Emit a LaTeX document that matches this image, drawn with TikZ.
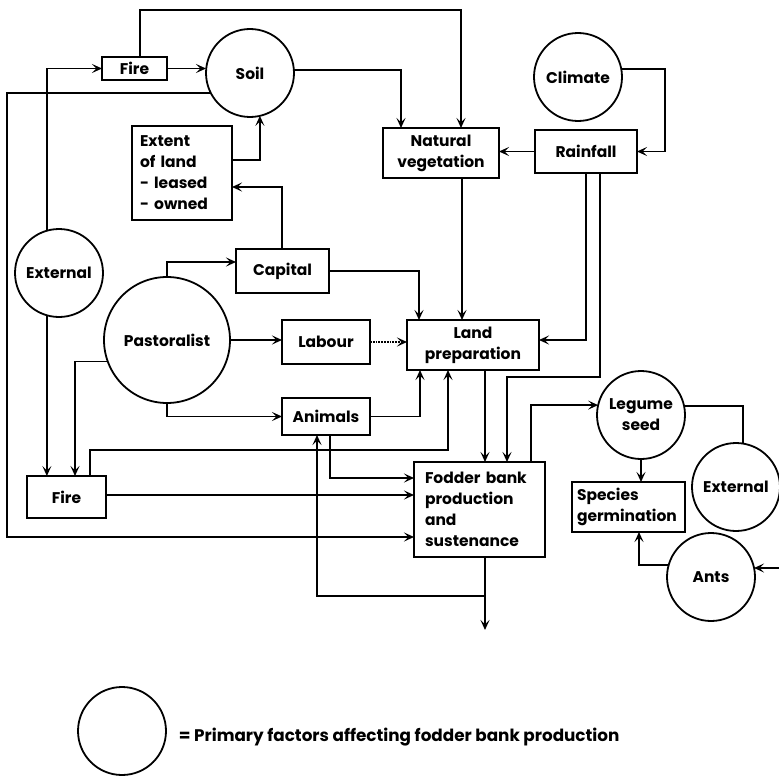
\documentclass[tikz,border=0pt]{standalone}
\usepackage{fontspec}
\setmainfont{Poppins}
\usetikzlibrary{arrows.meta}
\newcommand\labfont{\fontsize{15.5}{21}\selectfont\bfseries}
\newcommand\legfont{\fontsize{16.8}{21}\selectfont\bfseries}
\begin{document}
\begin{tikzpicture}[x=1pt,y=-1pt,
  line width=1.8pt,
  arr/.style={-{Stealth[length=10pt,width=9pt,inset=4.5pt]}},
  box/.style={draw, rectangle, inner sep=0pt, outer sep=0pt, font=\labfont, align=center},
  fac/.style={draw, circle, inner sep=0pt, outer sep=0pt, minimum size=88pt, font=\labfont, align=center},
]
\useasboundingbox (0,0) rectangle (779,776);

% nodes
\node[box, minimum width=65pt, minimum height=23pt] (fireT) at (134.5,68.5) {Fire};
\node[fac] (soil) at (250,73) {Soil};
\node[box, minimum width=100pt, minimum height=94pt, text width=84pt, align=left] (extent) at (182,173) {Extent\\of land\\- leased\\- owned};
\node[box, minimum width=116pt, minimum height=50pt] (natveg) at (441,153) {Natural\\vegetation};
\node[box, minimum width=102pt, minimum height=43pt] (rain) at (586,151.5) {Rainfall};
\node[fac] (climate) at (578,77) {Climate};
\node[fac] (extL) at (59,273) {External};
\node[fac, minimum size=126pt] (past) at (167,340) {Pastoralist};
\node[box, minimum width=93pt, minimum height=44pt] (capital) at (282.5,271) {Capital};
\node[box, minimum width=88pt, minimum height=44pt] (labour) at (326,342) {Labour};
\node[box, minimum width=88pt, minimum height=37pt] (animals) at (326,416.5) {Animals};
\node[box, minimum width=79pt, minimum height=42pt] (fireB) at (66.5,497) {Fire};
\node[box, minimum width=132pt, minimum height=50pt] (land) at (473,345) {Land\\preparation};
\node[box, minimum width=131pt, minimum height=95pt, text width=109pt, align=left] (fodder) at (479.5,509.5) {Fodder bank\\production\\and\\sustenance};
\node[box, minimum width=113pt, minimum height=50pt, text width=103pt, align=left] (species) at (628.5,507) {Species\\germination};
\node[fac] (legume) at (641,415) {Legume\\seed};
\node[fac] (extR) at (736,487) {External};
\node[fac] (ants) at (711,577) {Ants};

\coordinate (inA) at (779,568);
\coordinate (lft) at (7,537);
\coordinate (out) at (485,630);
\coordinate (j) at (485,596);

% connectors
\draw[arr] (fireT.east) -- (fireT.east -| soil.west);
\draw[arr] ([xshift=5.5pt]fireT.north) -- ++(0,-47) -| ([xshift=20pt]natveg.north);
\draw[arr] (soil.4) -| ([xshift=-40pt]natveg.north);
\draw[arr] (climate.10) -| ([xshift=28pt]rain.east) -- (rain.east);
\draw[arr] (rain.west) -- (rain.west -| natveg.east);
\draw[arr] ([xshift=21pt]natveg.south) -- ([xshift=21pt]natveg.south |- land.north);
\draw[arr] (rain.south) |- ([yshift=5pt]land.east);
\draw[arr] ([xshift=14pt]rain.south) -- (600,377) -| ([xshift=27.5pt]fodder.north);
\draw[arr] (capital.east) -| ([xshift=-54pt]land.north);
\draw[arr, densely dotted] (labour.east) -- (labour.east -| land.west);
\draw[arr] (animals.east) -| ([xshift=-53pt]land.south);
\draw[arr] ([xshift=23.5pt]fireB.north) -- ++(0,-26) -| ([xshift=-25pt]land.south);
\draw[arr] ([xshift=12pt]land.south) -- ([xshift=12pt]land.south |- fodder.north);
\draw[arr] ([xshift=51.5pt]fodder.north) |- (legume.167);
\draw (legume.12) -| (extR.81);
\draw[arr] (legume.south) -- (legume.south |- species.north);
\draw[arr] (ants.164) -| ([xshift=10.5pt]species.south);
\draw[arr] (inA) -- (inA -| ants.12);
\draw[arr] (extL.106) |- (fireT.west);
\draw[arr] (extL.254) -- (extL.254 |- fireB.north);
\draw[arr] (past.north) |- ([yshift=9pt]capital.west);
\draw[arr] ([xshift=-0.5pt]capital.north) |- ([yshift=-14pt]extent.east);
\draw[arr] ([yshift=13pt]extent.east) -| (soil.-77);
\draw[arr] (past.east) -- (past.east -| labour.west);
\draw[arr] (past.south) |- (animals.west);
\draw[arr] (past.200) -| ([xshift=8.5pt]fireB.north);
\draw[arr] ([yshift=2pt]fireB.east) -- ([yshift=2pt]fireB.east -| fodder.west);
\draw[arr] ([xshift=4pt]animals.south) |- ([yshift=31.5pt]fodder.west);
\draw[arr] (soil.207) -| (lft) -- (lft -| fodder.west);
\draw[arr] ([xshift=5.5pt]fodder.south) -- (out);
\draw[arr] (j) -| ([xshift=-9pt]animals.south);

% legend
\node[fac] (leg) at (122,731) {};
\node[anchor=west, font=\legfont, inner sep=0pt] (legtxt) at (178,737) {= Primary factors affecting fodder bank production};
\end{tikzpicture}
\end{document}
